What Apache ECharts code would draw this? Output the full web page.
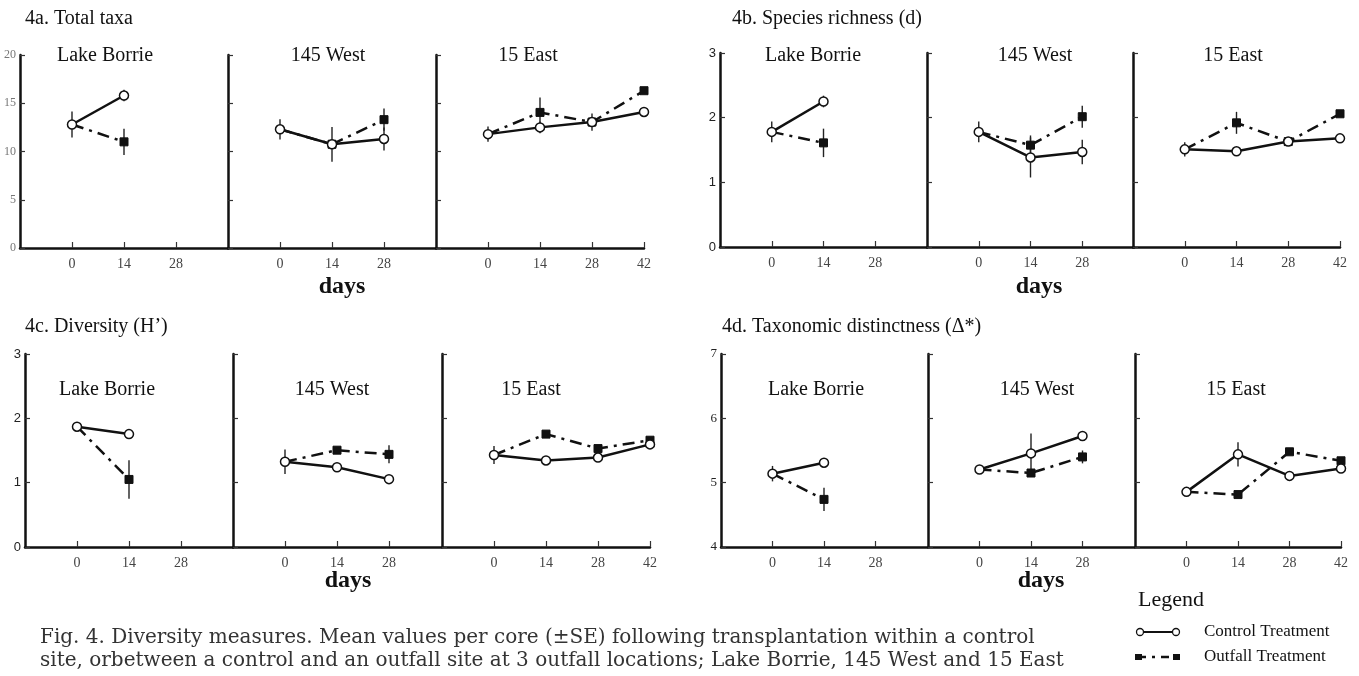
<!DOCTYPE html>
<html>
<head>
<meta charset="utf-8">
<script src="https://cdn.jsdelivr.net/npm/echarts@6/dist/echarts.min.js"></script>
<style>
  html, body { margin: 0; padding: 0; background: #fff; }
  #chart { width: 1359px; height: 676px; }
</style>
</head>
<body>
<div id="chart"></div>
<script>
// sites and sampling days
var sites = ['Lake Borrie', '145 West', '15 East'];
var siteDays = [[0, 14], [0, 14, 28], [0, 14, 28, 42]];
var xTicks = [[0, 14, 28], [0, 14, 28], [0, 14, 28, 42]];

// 4a. Total taxa
var taxaControl = [[12.8, 15.8], [12.3, 10.75, 11.3], [11.8, 12.5, 13.05, 14.1]];
var taxaControlSE = [[1.35, 0.6], [1.05, 1.8, 1.2], [0.8, 0.6, 0.9, 0.4]];
var taxaOutfall = [[12.8, 11.0], [12.3, 10.75, 13.3], [11.8, 14.05, 13.05, 16.3]];
var taxaOutfallSE = [[0, 1.35], [0, 0, 1.15], [0, 1.55, 0, 0.2]];

// 4b. Species richness (d)
var richControl = [[1.78, 2.25], [1.78, 1.385, 1.47], [1.51, 1.48, 1.63, 1.68]];
var richControlSE = [[0.16, 0.09], [0.16, 0.31, 0.19], [0.11, 0.04, 0.05, 0.02]];
var richOutfall = [[1.78, 1.61], [1.78, 1.575, 2.015], [1.51, 1.92, 1.63, 2.06]];
var richOutfallSE = [[0, 0.22], [0, 0.15, 0.17], [0, 0.17, 0, 0.03]];

// 4c. Diversity (H')
var divControl = [[1.87, 1.755], [1.325, 1.24, 1.055], [1.43, 1.345, 1.39, 1.595]];
var divControlSE = [[0.05, 0.02], [0.19, 0.02, 0.03], [0.14, 0.02, 0.03, 0.03]];
var divOutfall = [[1.87, 1.05], [1.325, 1.505, 1.44], [1.43, 1.755, 1.53, 1.66]];
var divOutfallSE = [[0, 0.3], [0, 0.03, 0.14], [0, 0.03, 0.02, 0.03]];

// 4d. Taxonomic distinctness
var distControl = [[5.14, 5.31], [5.205, 5.455, 5.725], [4.857, 5.44, 5.105, 5.22]];
var distControlSE = [[0.12, 0.02], [0.03, 0.31, 0.06], [0.06, 0.19, 0.02, 0.05]];
var distOutfall = [[5.14, 4.74], [5.205, 5.15, 5.40], [4.857, 4.815, 5.48, 5.34]];
var distOutfallSE = [[0, 0.18], [0, 0.05, 0.1], [0, 0.05, 0.03, 0.03]];

var serif = '"Liberation Serif", "Times New Roman", serif';
var sans = '"Liberation Sans", Arial, sans-serif';

// panel layout
var panels = [
  { title: '4a. Total taxa', tx: 20, ty: 15, lefts: [20, 228, 436], width: 208, top: 55, height: 193,
    min: 0, max: 20, interval: 5, yFont: serif, yColor: '#777', ySize: 12,
    subX: [100, 323, 523], subY: 53, daysX: 337, daysY: 284,
    control: taxaControl, controlSE: taxaControlSE, outfall: taxaOutfall, outfallSE: taxaOutfallSE },
  { title: '4b. Species richness (d)', tx: 727, ty: 15, lefts: [720, 927, 1133], width: 207, top: 53, height: 194,
    min: 0, max: 3, interval: 1, yFont: sans, yColor: '#222', ySize: 13,
    subX: [808, 1030, 1228], subY: 53, daysX: 1034, daysY: 284,
    control: richControl, controlSE: richControlSE, outfall: richOutfall, outfallSE: richOutfallSE },
  { title: '4c. Diversity (H\u2019)', tx: 20, ty: 323, lefts: [25, 233, 442], width: 208, top: 354, height: 193,
    min: 0, max: 3, interval: 1, yFont: sans, yColor: '#222', ySize: 13,
    subX: [102, 327, 526], subY: 387, daysX: 343, daysY: 578,
    control: divControl, controlSE: divControlSE, outfall: divOutfall, outfallSE: divOutfallSE },
  { title: '4d. Taxonomic distinctness (\u0394*)', tx: 717, ty: 323, lefts: [721, 928, 1135], width: 206, top: 354, height: 193,
    min: 4, max: 7, interval: 1, yFont: serif, yColor: '#222', ySize: 13,
    subX: [811, 1032, 1231], subY: 387, daysX: 1036, daysY: 578,
    control: distControl, controlSE: distControlSE, outfall: distOutfall, outfallSE: distOutfallSE }
];

var grids = [], xAxes = [], yAxes = [], series = [], titles = [];

function errorData(days, vals, se) {
  var out = [];
  for (var i = 0; i < days.length; i++) {
    if (se[i] > 0) out.push([days[i], vals[i] - se[i], vals[i] + se[i]]);
  }
  return out;
}

function renderError(params, api) {
  var a = api.coord([api.value(0), api.value(1)]);
  var b = api.coord([api.value(0), api.value(2)]);
  return {
    type: 'line',
    shape: { x1: a[0], y1: a[1], x2: b[0], y2: b[1] },
    style: { stroke: '#222', lineWidth: 1.4 }
  };
}

panels.forEach(function (p) {
  titles.push({ text: p.title, left: p.tx, top: p.ty - 11,
    textStyle: { fontFamily: serif, fontSize: 20, fontWeight: 'normal', color: '#111' } });
  titles.push({ text: 'days', left: p.daysX, top: p.daysY - 14, textAlign: 'center',
    textStyle: { fontFamily: serif, fontSize: 24, fontWeight: 'bold', color: '#111' } });

  for (var s = 0; s < 3; s++) {
    var g = grids.length;
    grids.push({ left: p.lefts[s], top: p.top, width: p.width, height: p.height });
    titles.push({ text: sites[s], left: p.subX[s], top: p.subY - 12, textAlign: 'center',
      textStyle: { fontFamily: serif, fontSize: 20, fontWeight: 'normal', color: '#111' } });

    xAxes.push({
      type: 'value', gridIndex: g, min: -14, max: 42, interval: 14,
      axisLine: { onZero: false, lineStyle: { color: '#111', width: 2.5 } },
      axisTick: { show: true, inside: true, length: 6, customValues: xTicks[s], lineStyle: { color: '#333', width: 1.2 } },
      axisLabel: { customValues: xTicks[s], fontFamily: serif, fontSize: 14, color: '#444', margin: 9 },
      splitLine: { show: false }
    });
    yAxes.push({
      type: 'value', gridIndex: g, min: p.min, max: p.max, interval: p.interval,
      axisLine: { show: true, onZero: false, lineStyle: { color: '#111', width: 2.5 } },
      axisTick: { show: true, inside: true, length: 5, lineStyle: { color: '#333', width: 1.2 } },
      axisLabel: { show: s === 0, fontFamily: p.yFont, fontSize: p.ySize, color: p.yColor, margin: 4 },
      splitLine: { show: false }
    });

    var days = siteDays[s];
    var ctrl = days.map(function (d, i) { return [d, p.control[s][i]]; });
    var outf = days.map(function (d, i) {
      return i === 0 ? { value: [d, p.outfall[s][i]], symbol: 'none' } : [d, p.outfall[s][i]];
    });

    series.push({
      type: 'custom', xAxisIndex: g, yAxisIndex: g, z: 1,
      renderItem: renderError, encode: { x: 0, y: [1, 2] },
      data: errorData(days, p.control[s], p.controlSE[s]).concat(errorData(days, p.outfall[s], p.outfallSE[s]))
    });
    series.push({
      name: 'Outfall Treatment', type: 'line', xAxisIndex: g, yAxisIndex: g, z: 2,
      data: outf, symbol: 'rect', symbolSize: 8, showSymbol: true,
      itemStyle: { color: '#111', borderColor: '#111' },
      lineStyle: { color: '#111', width: 2.5, type: [12, 6, 3, 6] },
      animation: false
    });
    series.push({
      name: 'Control Treatment', type: 'line', xAxisIndex: g, yAxisIndex: g, z: 3,
      data: ctrl, symbol: 'circle', symbolSize: 9,
      itemStyle: { color: '#fff', borderColor: '#111', borderWidth: 1.5 },
      lineStyle: { color: '#111', width: 2.5 },
      animation: false
    });
  }
});

var chart = echarts.init(document.getElementById('chart'));
chart.setOption({
  animation: false,
  backgroundColor: '#fff',
  title: titles,
  grid: grids,
  xAxis: xAxes,
  yAxis: yAxes,
  series: series,
  graphic: [
    { type: 'text', left: 40, top: 628, style: { text: 'Fig. 4. Diversity measures. Mean values per core (\u00b1SE) following transplantation within a control',
        font: '20px "DejaVu Serif", serif', fill: '#333' } },
    { type: 'text', left: 40, top: 651, style: { text: 'site, orbetween a control and an outfall site at 3 outfall locations; Lake Borrie, 145 West and 15 East',
        font: '20px "DejaVu Serif", serif', fill: '#333' } },
    { type: 'text', left: 1138, top: 589, style: { text: 'Legend', font: '22px "Liberation Serif", serif', fill: '#111' } },
    { type: 'line', shape: { x1: 1140, y1: 632, x2: 1176, y2: 632 }, style: { stroke: '#111', lineWidth: 2 } },
    { type: 'circle', shape: { cx: 1140, cy: 632, r: 3.5 }, style: { fill: '#fff', stroke: '#111', lineWidth: 1.3 } },
    { type: 'circle', shape: { cx: 1176, cy: 632, r: 3.5 }, style: { fill: '#fff', stroke: '#111', lineWidth: 1.3 } },
    { type: 'text', left: 1204, top: 623, style: { text: 'Control Treatment', font: '17px "Liberation Serif", serif', fill: '#111' } },
    { type: 'line', shape: { x1: 1138, y1: 657, x2: 1178, y2: 657 }, style: { stroke: '#111', lineWidth: 2.5, lineDash: [8, 6, 3, 6] } },
    { type: 'rect', shape: { x: 1135, y: 654, width: 7, height: 6 }, style: { fill: '#111' } },
    { type: 'rect', shape: { x: 1173, y: 654, width: 7, height: 6 }, style: { fill: '#111' } },
    { type: 'text', left: 1204, top: 648, style: { text: 'Outfall Treatment', font: '17px "Liberation Serif", serif', fill: '#111' } }
  ]
});
</script>
</body>
</html>
